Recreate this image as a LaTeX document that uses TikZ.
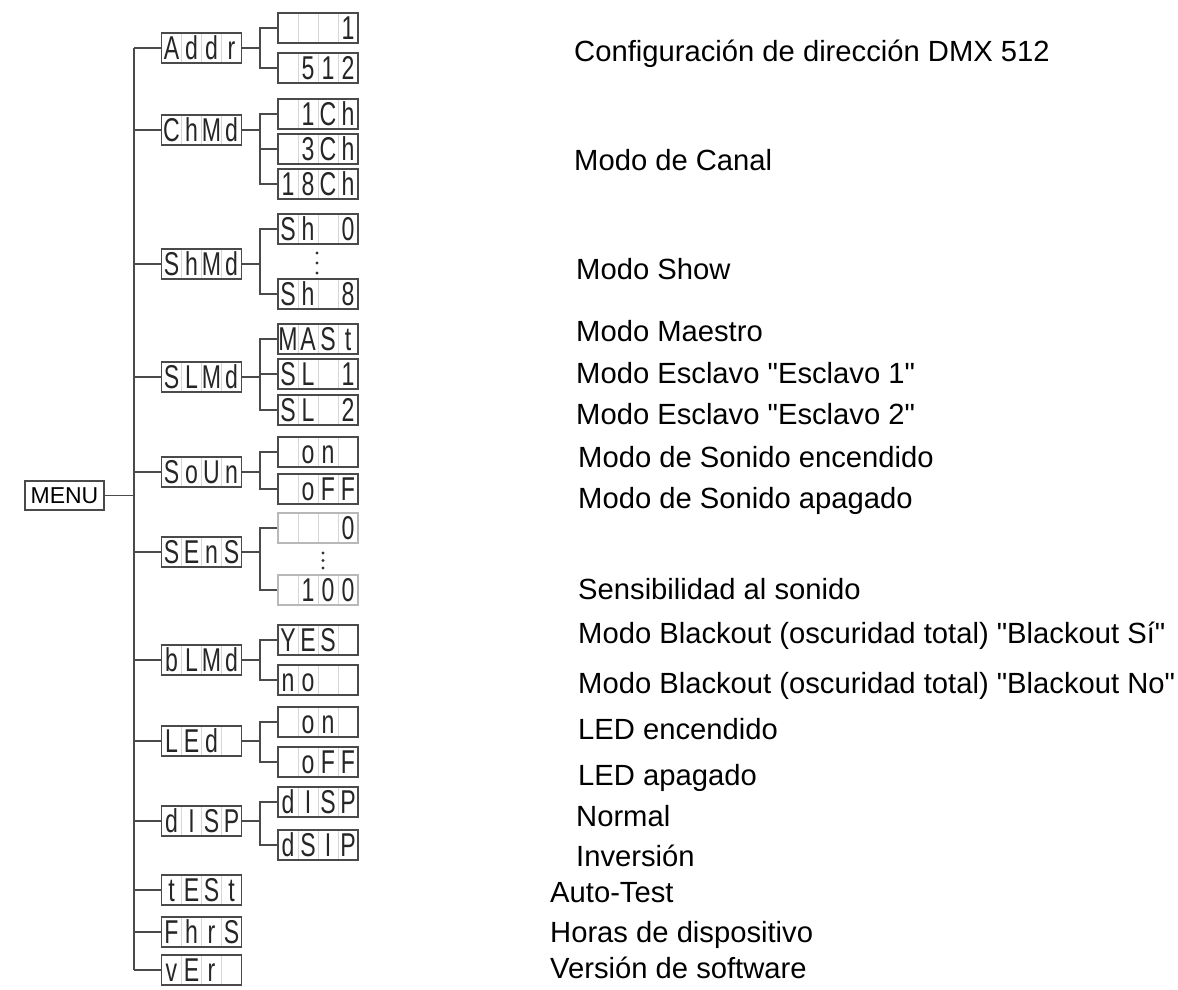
\documentclass[tikz,border=0pt]{standalone}
\usepackage{fontspec}
\setmainfont{Liberation Sans}[Ligatures=TeXOff]
\newfontfamily\lcdfont[FakeStretch=0.7]{Liberation Sans}
\usetikzlibrary{positioning}
\usepackage{xcolor}
\definecolor{wire}{HTML}{4A4A4A}
\definecolor{cellgrid}{HTML}{D6D6D6}
\newcommand{\lcdcell}[1]{\makebox[20pt]{#1}}
\newcommand{\lcd}[4]{\lcdcell{#1}\lcdcell{#2}\lcdcell{#3}\lcdcell{#4}}

\begin{document}
\begin{tikzpicture}[x=1pt,y=-1pt,
  lcd/.style={draw=wire,line width=1.4pt,minimum width=80pt,minimum height=30pt,
    inner sep=0pt,text height=23.5pt,text depth=0pt,text=black!85,
    font=\lcdfont\fontsize{33}{33}\selectfont,
    path picture={\foreach \k in {1,2,3}
      \draw[cellgrid,line width=0.8pt] ([xshift=\k*20pt]path picture bounding box.north west)
        -- ([xshift=\k*20pt]path picture bounding box.south west);}},
  lcdfaint/.style={lcd,draw=black!28},
  wireline/.style={wire,line width=1.4pt},
  desc/.style={anchor=base west,inner sep=0pt,font=\fontsize{29.2}{34}\selectfont}]
  \useasboundingbox (0,0) rectangle (1178,990);
  \coordinate (trunk) at (134,48);
  \coordinate (trunkend) at (134,970);
  \coordinate (fork) at (260,0);

  % root and trunk
  \node[draw=wire,line width=1.4pt,minimum width=79pt,minimum height=29pt,inner sep=0pt,
        font=\fontsize{23}{23}\selectfont] (menu) at (64.5,495.5) {MENU};
  \draw[wireline] (menu.east) -- (menu.east -| trunk);
  \draw[wireline] (trunk) -- (trunkend);

  % first level
  \foreach \n/\y/\t in {
    addr/48/{\lcd{A}{d}{d}{r}},
    chmd/130/{\lcd{C}{h}{M}{d}},
    shmd/264/{\lcd{S}{h}{M}{d}},
    slmd/377/{\lcd{S}{L}{M}{d}},
    soun/472/{\lcd{S}{o}{U}{n}},
    sens/552/{\lcd{S}{E}{n}{S}},
    blmd/660/{\lcd{b}{L}{M}{d}},
    led/741/{\lcd{L}{E}{d}{}},
    disp/821/{\lcd{d}{I}{S}{P}},
    test/890/{\lcd{t}{E}{S}{t}},
    fhrs/932/{\lcd{F}{h}{r}{S}},
    ver/970/{\lcd{v}{E}{r}{}}} {
    \node[lcd] (\n) at (201.5,\y) {\t};
    \draw[wireline] (\n.west) -- (\n.west -| trunk);
  }

  % second level
  \foreach \p/\n/\y/\t/\s in {
    addr/addra/28/{\lcd{}{}{}{1}}/lcd,
    addr/addrb/68/{\lcd{}{5}{1}{2}}/lcd,
    chmd/chmda/114/{\lcd{}{1}{C}{h}}/lcd,
    chmd/chmdb/149/{\lcd{}{3}{C}{h}}/lcd,
    chmd/chmdc/184/{\lcd{1}{8}{C}{h}}/lcd,
    shmd/shmda/229/{\lcd{S}{h}{}{0}}/lcd,
    shmd/shmdb/294/{\lcd{S}{h}{}{8}}/lcd,
    slmd/slmda/339/{\lcd{M}{A}{S}{t}}/lcd,
    slmd/slmdb/374/{\lcd{S}{L}{}{1}}/lcd,
    slmd/slmdc/410/{\lcd{S}{L}{}{2}}/lcd,
    soun/souna/452/{\lcd{}{o}{n}{}}/lcd,
    soun/sounb/489/{\lcd{}{o}{F}{F}}/lcd,
    sens/sensa/528/{\lcd{}{}{}{0}}/lcdfaint,
    sens/sensb/590/{\lcd{}{1}{0}{0}}/lcdfaint,
    blmd/blmda/640/{\lcd{Y}{E}{S}{}}/lcd,
    blmd/blmdb/680/{\lcd{n}{o}{}{}}/lcd,
    led/leda/722/{\lcd{}{o}{n}{}}/lcd,
    led/ledb/762/{\lcd{}{o}{F}{F}}/lcd,
    disp/dispa/802/{\lcd{d}{I}{S}{P}}/lcd,
    disp/dispb/845/{\lcd{d}{S}{I}{P}}/lcd} {
    \node[\s] (\n) at (318,\y) {\t};
    \draw[wireline] (\n.west) -- (\n.west -| fork) |- (\p.east);
  }

  % ranges left out
  \foreach \y in {253,263,273} \fill[black!80] (317,\y) circle (1.6);
  \foreach \y in {553,560.5,568} \fill[black!80] (323,\y) circle (1.6);

  % descriptions
  \foreach \x/\y/\txt [count=\i] in {
    574/62/{Configuración de dirección DMX 512},
    574/170/{Modo de Canal},
    576/279/{Modo Show},
    576/341/{Modo Maestro},
    576/383/{Modo Esclavo "Esclavo 1"},
    576/424/{Modo Esclavo "Esclavo 2"},
    578/467/{Modo de Sonido encendido},
    578/508/{Modo de Sonido apagado},
    578/599/{Sensibilidad al sonido},
    578/643/{Modo Blackout (oscuridad total) "Blackout Sí"},
    578/693/{Modo Blackout (oscuridad total) "Blackout No"},
    578/739/{LED encendido},
    578/785/{LED apagado},
    576/826/{Normal},
    576/866/{Inversión},
    550/902/{Auto-Test},
    550/942/{Horas de dispositivo},
    550/978/{Versión de software}} {
    \node[desc] (lbl\i) at (\x,\y) {\txt};
  }
\end{tikzpicture}
\end{document}
